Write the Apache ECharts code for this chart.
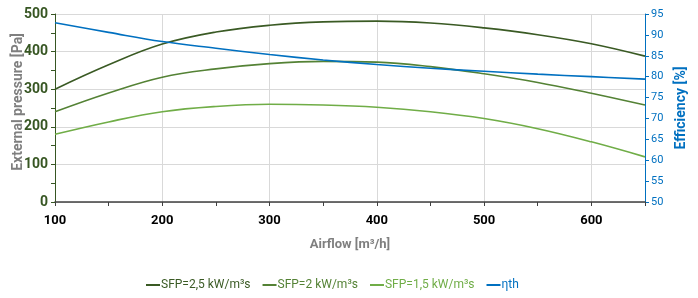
<!DOCTYPE html>
<html>
<head>
<meta charset="utf-8">
<script src="https://cdn.jsdelivr.net/npm/echarts@6/dist/echarts.min.js"></script>
<style>
  html, body { margin: 0; padding: 0; background: #fff; }
  #chart { width: 698px; height: 298px; }
</style>
</head>
<body>
<div id="chart"></div>
<script>
var airflow = [100, 150, 200, 250, 300, 350, 400, 450, 500, 550, 600, 650];
var sfp25 = [300, 365, 420, 452, 470, 479, 481, 476, 463, 445, 421, 388];
var sfp2 = [240, 290, 332, 354, 368, 374, 372, 360, 341, 318, 289, 258];
var sfp15 = [180, 213, 240, 254, 260, 258, 252, 240, 222, 195, 160, 120];
var etaTh = [92.9, 90.6, 88.4, 86.8, 85.3, 84.0, 82.9, 82.0, 81.3, 80.6, 80.0, 79.4];
var seriesNames = ['SFP=2,5 kW/m³s', 'SFP=2 kW/m³s', 'SFP=1,5 kW/m³s', 'ηth'];
var colors = ['#3a5a24', '#548235', '#70ad47', '#0070c0'];

function pairs(ys) {
    var out = [];
    for (var i = 0; i < airflow.length; i++) out.push([airflow[i], ys[i]]);
    return out;
}

var font = "'Liberation Sans Narrow', 'Roboto', sans-serif";
var myChart = echarts.init(document.getElementById('chart'));
var series = [];
var data = [sfp25, sfp2, sfp15, etaTh];
for (var n = 0; n < data.length; n++) {
    series.push({
        name: seriesNames[n],
        type: 'line',
        smooth: 0.4,
        symbol: 'none',
        yAxisIndex: n == 3 ? 1 : 0,
        data: pairs(data[n]),
        lineStyle: {color: colors[n], width: 1.6},
        itemStyle: {color: colors[n]}
    });
}

var option = {
    animation: false,
    grid: {left: 55, right: 53, top: 14, bottom: 96, containLabel: false, outerBoundsMode: 'none'},
    legend: {
        left: 141,
        top: 274,
        icon: 'rect',
        itemWidth: 14,
        itemHeight: 2,
        itemGap: 12,
        textStyle: {fontFamily: font, fontSize: 12, padding: [0, 0, 0, -4]}
    },
    // left axis title, placed by hand (axis name gets pushed off the page)
    graphic: [{
        type: 'text',
        left: 11,
        top: 33,
        rotation: Math.PI / 2,
        style: {
            text: 'External pressure [Pa]',
            fill: '#7f7f7f',
            font: "bold 14px 'Liberation Sans Narrow', 'Roboto', sans-serif"
        }
    }],
    xAxis: {
        type: 'value',
        min: 100,
        max: 650,
        interval: 100,
        name: 'Airflow [m³/h]',
        nameLocation: 'middle',
        nameGap: 36,
        nameTextStyle: {color: '#7f7f7f', fontFamily: font, fontSize: 13, fontWeight: 'bold'},
        axisLine: {lineStyle: {color: '#404040', width: 1.5}},
        axisTick: {show: true, length: 4, lineStyle: {color: '#404040'}},
        minorTick: {show: true, splitNumber: 2, length: 4, lineStyle: {color: '#404040'}},
        axisLabel: {color: '#000', fontFamily: font, fontSize: 13, fontWeight: 'bold', margin: 12, showMaxLabel: false},
        splitLine: {show: true, lineStyle: {color: '#d9d9d9', width: 1}}
    },
    yAxis: [
        {
            type: 'value',
            min: 0,
            max: 500,
            interval: 100,
            axisLine: {show: true, lineStyle: {color: '#375623', width: 1}},
            axisTick: {show: true, length: 4, lineStyle: {color: '#375623'}},
            minorTick: {show: true, splitNumber: 2, length: 4, lineStyle: {color: '#375623'}},
            axisLabel: {color: '#375623', fontFamily: font, fontSize: 14, fontWeight: 'bold', margin: 7},
            splitLine: {show: true, lineStyle: {color: '#d9d9d9', width: 1}}
        },
        {
            type: 'value',
            min: 50,
            max: 95,
            interval: 5,
            position: 'right',
            name: 'Efficiency [%]',
            nameLocation: 'middle',
            nameGap: 26,
            nameRotate: 90,
            nameTextStyle: {color: '#0070c0', fontFamily: font, fontSize: 14, fontWeight: 'bold'},
            axisLine: {show: true, lineStyle: {color: '#0070c0', width: 1}},
            axisTick: {show: true, length: 4, lineStyle: {color: '#0070c0'}},
            axisLabel: {color: '#0070c0', fontFamily: font, fontSize: 11, margin: 6},
            splitLine: {show: false}
        }
    ],
    series: series
};

// legend text coloured like the series
option.legend.data = seriesNames.map(function (name, i) {
    return {name: name, textStyle: {color: colors[i]}};
});

myChart.setOption(option);
</script>
</body>
</html>
